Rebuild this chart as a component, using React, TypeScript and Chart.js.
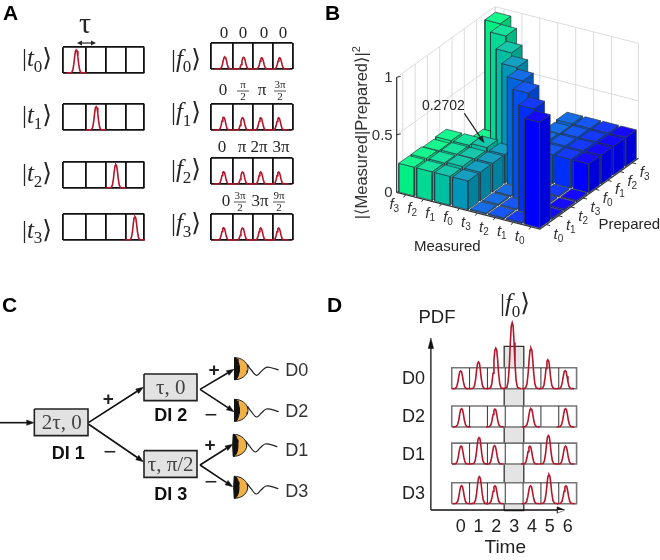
import React, { useEffect, useRef } from "react";
import { Chart, registerables } from "chart.js";

Chart.register(...registerables);

/* ---------- data ---------- */
const timeStates = ["t0", "t1", "t2", "t3"];
const freqStates = ["f0", "f1", "f2", "f3"];
const tPeakPositions = [0.653, 1.633, 2.6, 3.54];
const tAmplitudes = [
  [0.9, 0, 0, 0],
  [0, 0.9, 0, 0],
  [0, 0, 0.9, 0],
  [0, 0, 0, 0.9],
];
const fPeakPositions = [
  [0.68, 1.6, 2.49, 3.37],
  [0.62, 1.55, 2.44, 3.32],
  [0.62, 1.55, 2.44, 3.32],
  [0.62, 1.55, 2.44, 3.32],
];
const fAmplitudes = [
  [0.46, 0.45, 0.43, 0.43],
  [0.49, 0.47, 0.47, 0.47],
  [0.47, 0.46, 0.46, 0.46],
  [0.47, 0.46, 0.46, 0.46],
];
const phaseLabels = [
  ["0", "0", "0", "0"],
  ["0", "π/2", "π", "3π/2"],
  ["0", "π", "2π", "3π"],
  ["0", "3π/2", "3π", "9π/2"],
];
const pulseOffsets = [-0.5, -0.23, -0.17, -0.12, -0.08, -0.04, 0, 0.04, 0.08, 0.12, 0.17, 0.23, 0.5];
const pulseShape = [0, 0.02, 0.12, 0.38, 0.7, 0.95, 1, 0.95, 0.7, 0.38, 0.12, 0.02, 0];

const measuredLabels = ["f3", "f2", "f1", "f0", "t3", "t2", "t1", "t0"];
const preparedLabels = ["t0", "t1", "t2", "t3", "f0", "f1", "f2", "f3"];
const rowF3 = [0.25, 0.25, 0.24, 0.25, 0.01, 0.01, 0.02, 0.96];
const rowF2 = [0.25, 0.25, 0.25, 0.25, 0.01, 0.01, 0.97, 0.01];
const rowF1 = [0.25, 0.26, 0.25, 0.2702, 0.01, 0.94, 0.01, 0.01];
const rowF0 = [0.25, 0.25, 0.25, 0.25, 0.93, 0.01, 0.01, 0.01];
const rowT3 = [0.01, 0.01, 0.01, 0.93, 0.25, 0.25, 0.24, 0.25];
const rowT2 = [0.01, 0.01, 0.94, 0.01, 0.25, 0.25, 0.25, 0.25];
const rowT1 = [0.01, 0.92, 0.01, 0.01, 0.25, 0.25, 0.25, 0.25];
const rowT0 = [0.92, 0.01, 0.01, 0.01, 0.25, 0.25, 0.25, 0.25];
const probabilities = [rowF3, rowF2, rowF1, rowF0, rowT3, rowT2, rowT1, rowT0];
const zTicks = [0, 0.5, 1];

const detectorNames = ["D0", "D2", "D1", "D3"];
const timeTicks = [0, 1, 2, 3, 4, 5, 6];
const rowBaselines = [5.48, 3.66, 1.89, 0];
const peakTimes = [
  [0, 1, 1.97, 2.89, 3.94, 4.89, 5.86],
  [0.05, 1, 1.92, 3, 3.94, 5, 5.88],
  [0.02, 1.03, 1.9, 3, 3.88, 4.92, 5.88],
  [0.05, 1.05, 1.92, 3, 3.92, 4.95, 5.9],
];
const peakHeights = [
  [0.85, 1.28, 1.94, 3.15, 1.94, 1.38, 0.86],
  [0.87, 0, 0.85, 0, 0.87, 0, 0.87],
  [0.86, 1.26, 0.88, 0, 0.85, 1.36, 0.85],
  [0.86, 1.29, 0.85, 0, 0.85, 1.39, 0.85],
];

/* ---------- styles ---------- */
const RED = "#B2182B";
const INK = "#262626";
const SERIF = '"Liberation Serif", "DejaVu Serif", serif';
const SANS = '"Liberation Sans", Arial, sans-serif';
const faceBase = [
  [0, 238, 132],
  [0, 216, 148],
  [0, 190, 160],
  [0, 150, 184],
  [0, 100, 220],
  [0, 78, 236],
  [0, 48, 248],
  [0, 0, 255],
];

/* ---------- text helpers ---------- */
type Seg = { t: string; f: string; dy?: number };
function drawSegs(ctx: any, x: number, y: number, segs: Seg[], color = INK, align = "center", rot = 0) {
  ctx.save();
  ctx.translate(x, y);
  ctx.rotate(rot);
  ctx.fillStyle = color;
  ctx.textBaseline = "alphabetic";
  ctx.textAlign = "left";
  let w = 0;
  for (const s of segs) {
    ctx.font = s.f;
    w += ctx.measureText(s.t).width;
  }
  let cx = align === "center" ? -w / 2 : align === "right" ? -w : 0;
  for (const s of segs) {
    ctx.font = s.f;
    ctx.fillText(s.t, cx, s.dy || 0);
    cx += ctx.measureText(s.t).width;
  }
  ctx.restore();
}
const plain = (t: string, font: string): Seg[] => [{ t, f: font }];
const ket = (label: string, size = 25): Seg[] => [
  { t: "|", f: `${size}px ${SERIF}` },
  { t: label[0], f: `italic ${size}px ${SERIF}` },
  { t: label[1], f: `${Math.round(size * 0.68)}px ${SERIF}`, dy: size * 0.22 },
  { t: "⟩", f: `${size}px "DejaVu Sans"` },
];
function drawPhase(ctx: any, x: number, y: number, label: string) {
  if (label.includes("/")) {
    const [n, d] = label.split("/");
    const font = `11px ${SERIF}`;
    drawSegs(ctx, x, y - 7, plain(n, font));
    drawSegs(ctx, x, y + 5, plain(d, font));
    ctx.strokeStyle = INK;
    ctx.lineWidth = 0.8;
    ctx.beginPath();
    ctx.moveTo(x - 6, y - 4);
    ctx.lineTo(x + 6, y - 4);
    ctx.stroke();
  } else {
    drawSegs(ctx, x, y, plain(label, `17px ${SERIF}`));
  }
}

/* ---------- dataset helpers ---------- */
type P = { x: number; y: number };
const poly = (pts: P[], fill: string | null, stroke: string | null, width = 1, extra: any = {}) => ({
  data: pts,
  showLine: true,
  fill: fill ? "shape" : false,
  backgroundColor: fill || "transparent",
  borderColor: stroke || "transparent",
  borderWidth: stroke ? width : 0,
  pointRadius: 0,
  tension: 0,
  clip: false,
  ...extra,
});
function arrow(a: P, b: P, color: string, width: number, len: number, half: number) {
  const L = Math.hypot(b.x - a.x, b.y - a.y);
  const ux = (b.x - a.x) / L;
  const uy = (b.y - a.y) / L;
  const base = { x: b.x - ux * len, y: b.y - uy * len };
  return [
    poly([a, base], null, color, width),
    poly(
      [b, { x: base.x - uy * half, y: base.y + ux * half }, { x: base.x + uy * half, y: base.y - ux * half }, b],
      color,
      color,
      0.5
    ),
  ];
}
const pulses = (peaks: number[], heights: number[], base: number, width: number, spread = 1) =>
  peaks
    .map((p, i) =>
      heights[i] > 0
        ? poly(
            pulseOffsets.map((o, k) => ({
              x: p + (Math.abs(o) === 0.5 ? o : o * spread),
              y: base + heights[i] * pulseShape[k],
            })),
            null,
            RED,
            width
          )
        : null
    )
    .filter(Boolean);

const baseOptions = (scales: any, padding: any = 0) => ({
  responsive: false,
  animation: false as const,
  events: [] as any[],
  layout: { padding },
  plugins: { legend: { display: false }, tooltip: { enabled: false }, title: { display: false } },
  scales,
});
const hiddenScales = (x0: number, w: number, h: number) => ({
  x: { type: "linear", min: x0, max: w, display: false },
  y: { type: "linear", min: 0, max: h, reverse: true, display: false },
});
const overlay = (draw: (chart: any, ctx: any) => void) => ({
  id: "overlayText",
  afterDatasetsDraw(chart: any) {
    draw(chart, chart.ctx);
  },
});

/* ---------- panel A ---------- */
function slotChart(
  boxTop: number,
  boxLeft: number,
  boxRight: number,
  edges: number[],
  peaks: number[],
  amps: number[],
  canvasTop: number,
  canvasLeft: number,
  canvasWidth: number,
  boxH: number,
  draw: (ctx: any, toX: (v: number) => number) => void
) {
  const canvasHeight = boxTop - canvasTop + boxH + 3;
  return {
    rect: { left: canvasLeft, top: canvasTop, width: canvasWidth, height: canvasHeight },
    config: {
      type: "scatter",
      data: { datasets: (pulses(peaks, amps, 0, 1.6) as any[]).reverse() },
      options: baseOptions(
        {
          x: {
            type: "linear",
            min: 0,
            max: 4,
            afterBuildTicks: (s: any) => {
              s.ticks = edges.map((value) => ({ value }));
            },
            afterFit: (s: any) => {
              s.height = 0;
            },
            ticks: { display: false },
            grid: { color: "#111", lineWidth: 1.8, drawTicks: false },
            border: { display: false },
          },
          y: {
            type: "linear",
            min: 0,
            max: 1,
            afterBuildTicks: (s: any) => {
              s.ticks = [{ value: 0 }, { value: 1 }];
            },
            afterFit: (s: any) => {
              s.width = 0;
            },
            ticks: { display: false },
            grid: { color: "#111", lineWidth: 1.8, drawTicks: false },
            border: { display: false },
          },
        },
        {
          left: boxLeft - canvasLeft,
          right: canvasLeft + canvasWidth - boxRight,
          top: boxTop - canvasTop,
          bottom: 3,
        }
      ),
    },
    plugin: overlay((chart, ctx) => draw(ctx, (v) => chart.scales.x.getPixelForValue(v))),
  };
}

const tBoxTops = [47.3, 104, 161.7, 214.3];
const fBoxTops = [43.3, 104, 157.7, 214];
const tKetBaselines = [66, 123, 181, 238];
const fKetBaselines = [67, 120, 177, 231];
const fPhaseBaselines = [38, 95, 152, 206];
const fPhaseX = [
  [224, 243, 264, 283],
  [223, 243, 262, 280],
  [222, 242, 259, 281],
  [226, 240, 260, 279],
];
const tEdges = [0, 1.143, 2.12, 3.1, 4];
const fEdges = [0, 1.08, 2.06, 3.04, 4];

const panelA: any[] = [];
timeStates.forEach((s, r) => {
  const top = r === 0 ? 0 : tBoxTops[r] - 24;
  panelA.push(
    slotChart(tBoxTops[r], 63, 144.3, tEdges, tPeakPositions, tAmplitudes[r], top, 0, 150, 26, (ctx) => {
      drawSegs(ctx, 37, tKetBaselines[r] - top, ket(s));
      if (r === 0) {
        drawSegs(ctx, 3, 20, plain("A", `bold 21px ${SANS}`), "#000", "left");
        drawSegs(ctx, 85, 33, plain("τ", `30px ${SERIF}`));
        ctx.strokeStyle = INK;
        ctx.fillStyle = INK;
        ctx.lineWidth = 1.2;
        ctx.beginPath();
        ctx.moveTo(79, 43);
        ctx.lineTo(94, 43);
        ctx.stroke();
        for (const [tip, dir] of [
          [77, 1],
          [96, -1],
        ]) {
          ctx.beginPath();
          ctx.moveTo(tip, 43);
          ctx.lineTo(tip + dir * 5, 40.5);
          ctx.lineTo(tip + dir * 5, 45.5);
          ctx.closePath();
          ctx.fill();
        }
      }
    })
  );
});
freqStates.forEach((s, r) => {
  const top = fBoxTops[r] - 36;
  panelA.push(
    slotChart(fBoxTops[r], 211, 292.5, fEdges, fPeakPositions[r], fAmplitudes[r], top, 150, 150, 26, (ctx) => {
      drawSegs(ctx, 186 - 150, fKetBaselines[r] - top, ket(s));
      phaseLabels[r].forEach((l, k) => drawPhase(ctx, fPhaseX[r][k] - 150, fPhaseBaselines[r] - top, l));
    })
  );
});

/* ---------- panel B ---------- */
const floorO = { x: 200, y: 577 };
const stepU = { x: 53.75, y: 13.75 };
const stepV = { x: 36.9, y: -26.5 };
const Z_UNIT = 345;
const project = (p: number, q: number, z: number): P => ({
  x: floorO.x + p * stepU.x + q * stepV.x,
  y: floorO.y + p * stepU.y + q * stepV.y - z * Z_UNIT,
});
const GRID = "#DCDCDC";
const shade = (c: number[], f: number, add = 0) =>
  `rgb(${Math.min(255, c[0] * f + add)},${Math.min(255, c[1] * f + add * 0.4)},${Math.min(255, c[2] * f + add * 0.4)})`;

function panelBDatasets() {
  const ds: any[] = [];
  const n = measuredLabels.length;
  for (let j = 0; j <= n; j++) {
    const q = j === 0 || j === n ? j : j - 0.5;
    ds.push(poly([project(0, q, 0), project(0, q, 1)], null, GRID, 1));
    ds.push(poly([project(q, n, 0), project(q, n, 1)], null, GRID, 1));
  }
  for (const z of [0.5, 1]) {
    ds.push(poly([project(0, 0, z), project(0, n, z), project(n, n, z)], null, GRID, 1));
  }
  ds.push(poly([project(0, 0, 0), project(0, 0, 1)], null, "#333", 1.2));
  zTicks.forEach((z) => ds.push(poly([project(0, 0, z), { x: project(0, 0, z).x + 12, y: project(0, 0, z).y - 3 }], null, "#333", 1)));
  ds.push(poly([project(0, 0, 0), project(n, 0, 0), project(n, n, 0)], null, "#333", 1.2));
  for (let i = 0; i < n; i++) {
    const a = project(i + 0.5, 0, 0);
    ds.push(poly([a, { x: a.x - 6, y: a.y + 8 }], null, "#333", 1));
    const b = project(n, i + 0.5, 0);
    ds.push(poly([b, { x: b.x + 12, y: b.y + 3 }], null, "#333", 1));
  }
  const h = 0.43;
  const edge = "#2b3a44";
  for (let j = n - 1; j >= 0; j--) {
    for (let i = 0; i < n; i++) {
      const v = probabilities[i][j];
      const c = faceBase[i];
      const x0 = i + 0.5 - h;
      const x1 = i + 0.5 + h;
      const y0 = j + 0.5 - h;
      const y1 = j + 0.5 + h;
      ds.push(
        poly(
          [project(x0, y0, 0), project(x1, y0, 0), project(x1, y0, v), project(x0, y0, v), project(x0, y0, 0)],
          shade(c, 1),
          edge,
          0.7
        )
      );
      ds.push(
        poly(
          [project(x1, y0, 0), project(x1, y1, 0), project(x1, y1, v), project(x1, y0, v), project(x1, y0, 0)],
          shade(c, 0.86),
          edge,
          0.7
        )
      );
      ds.push(
        poly(
          [project(x0, y0, v), project(x1, y0, v), project(x1, y1, v), project(x0, y1, v), project(x0, y0, v)],
          shade(c, 1, 22),
          edge,
          0.7
        )
      );
    }
  }
  ds.push(...arrow({ x: 403, y: 340 }, { x: 462, y: 428 }, "#222", 1.2, 20, 7));
  return ds.reverse();
}
const panelB = {
  rect: { left: 320, top: 0, width: 340, height: 280 },
  config: {
    type: "scatter",
    data: { datasets: panelBDatasets() },
    options: baseOptions(hiddenScales(-30, 990, 840)),
  },
  plugin: overlay((chart, ctx) => {
    const X = (v: number) => chart.scales.x.getPixelForValue(v);
    const Y = (v: number) => chart.scales.y.getPixelForValue(v);
    drawSegs(ctx, 5, 20, plain("B", `bold 21px ${SANS}`), "#000", "left");
    const axisLabel = (l: string): Seg[] => [
      { t: l[0], f: `italic 15px ${SANS}` },
      { t: l[1], f: `10px ${SANS}`, dy: 3 },
    ];
    const n = measuredLabels.length;
    measuredLabels.forEach((l, i) => {
      const a = project(i + 0.5, 0, 0);
      drawSegs(ctx, X(a.x - 34), Y(a.y + 42), axisLabel(l), "#333");
    });
    preparedLabels.forEach((l, j) => {
      const b = project(n, j + 0.5, 0);
      drawSegs(ctx, X(b.x + 37), Y(b.y + 42), axisLabel(l), "#333");
    });
    zTicks.forEach((z) => {
      const a = project(0, 0, z);
      drawSegs(ctx, X(a.x - 12), Y(a.y + 15), plain(String(z), `15px ${SANS}`), "#333", "right");
    });
    drawSegs(ctx, X(352), Y(752), plain("Measured", `15px ${SANS}`), INK);
    drawSegs(ctx, X(898), Y(686), plain("Prepared", `15px ${SANS}`), INK);
    drawSegs(ctx, X(340), Y(331), plain("0.2702", `14px ${SANS}`), INK);
    drawSegs(
      ctx,
      X(110),
      Y(398),
      [
        { t: "|⟨Measured|Prepared⟩|", f: `16.5px ${SANS}, "DejaVu Sans"` },
        { t: "2", f: `11px ${SANS}`, dy: -7 },
      ],
      "#333",
      "center",
      -Math.PI / 2
    );
  }),
};

/* ---------- panel C ---------- */
const boxesC = [
  { x0: 103, y0: 387, x1: 264, y1: 467 },
  { x0: 432, y0: 282, x1: 591, y1: 362 },
  { x0: 432, y0: 512, x1: 591, y1: 592 },
];
const detectorsC = [
  { x: 704, y: 266, by: 268 },
  { x: 704, y: 391, by: 392 },
  { x: 700, y: 496, by: 508 },
  { x: 703, y: 622, by: 632 },
];
const squiggleDx = [38, 50, 66, 80, 95, 112, 132];
const squiggleDy = [-12, 4, 20, 8, -4, -2, 4];

function panelCDatasets() {
  const ds: any[] = [];
  const ar = (a: number[], b: number[], w = 1.6) =>
    ds.push(...arrow({ x: a[0], y: a[1] }, { x: b[0], y: b[1] }, "#111", w, 22, 8));
  ar([0, 428], [102, 428]);
  ar([265, 428], [430, 322]);
  ar([265, 432], [430, 545]);
  ar([600, 328], [702, 268]);
  ar([600, 328], [702, 395]);
  ar([600, 555], [698, 493]);
  ar([600, 555], [698, 620]);
  for (const b of boxesC) {
    ds.push(
      poly(
        [
          { x: b.x0, y: b.y0 },
          { x: b.x1, y: b.y0 },
          { x: b.x1, y: b.y1 },
          { x: b.x0, y: b.y1 },
          { x: b.x0, y: b.y0 },
        ],
        "#E2E2E2",
        "#222",
        1.6
      )
    );
  }
  for (const d of detectorsC) {
    const arc: P[] = [];
    const inner: P[] = [];
    for (let a = -90; a <= 90; a += 10) {
      const t = (a * Math.PI) / 180;
      arc.push({ x: d.x + 40 * Math.cos(t), y: d.y + 33 * Math.sin(t) });
    }
    ds.push(poly([...arc, arc[0]], "#F0B048", "#222", 1));
    for (let a = -90; a <= 90; a += 15) {
      const t = (a * Math.PI) / 180;
      inner.push({ x: d.x + 14 * Math.cos(t), y: d.y + 33 * Math.sin(t) });
    }
    inner.push({ x: d.x, y: d.y + 33 }, { x: d.x - 2, y: d.y }, { x: d.x, y: d.y - 33 }, inner[0]);
    ds.push(poly(inner, "#111", "#111", 1));
    ds.push(
      poly(
        squiggleDx.map((dx, k) => ({ x: d.x + dx, y: d.y + squiggleDy[k] })),
        null,
        "#222",
        1.2,
        { tension: 0.45 }
      )
    );
  }
  return ds.reverse();
}
const panelC = {
  rect: { left: 0, top: 280, width: 320, height: 280 },
  config: {
    type: "scatter",
    data: { datasets: panelCDatasets() },
    options: baseOptions(hiddenScales(0, 960, 840)),
  },
  plugin: overlay((chart, ctx) => {
    const T = (s: string, x: number, y: number, font: string, color = INK) =>
      drawSegs(ctx, chart.scales.x.getPixelForValue(x), chart.scales.y.getPixelForValue(y), plain(s, font), color);
    drawSegs(ctx, 2, 32, plain("C", `bold 21px ${SANS}`), "#000", "left");
    T("2τ, 0", 185, 446, `21px ${SERIF}`, "#444");
    T("τ, 0", 512, 342, `21px ${SERIF}`, "#444");
    T("τ, π/2", 512, 572, `21px ${SERIF}`, "#444");
    const bold = `bold 18px ${SANS}`;
    T("DI 1", 205, 536, bold, "#111");
    T("DI 2", 512, 424, bold, "#111");
    T("DI 3", 512, 661, bold, "#111");
    const plus = `bold 19px ${SANS}`;
    const minus = `22px ${SANS}`;
    T("+", 325, 376, plus, "#222");
    T("−", 330, 537, minus, "#222");
    T("+", 642, 288, plus, "#222");
    T("−", 633, 425, minus, "#222");
    T("+", 630, 512, plus, "#222");
    T("−", 633, 627, minus, "#222");
    detectorNames.forEach((name, i) => T(name, 890, detectorsC[i].by + 20, `18px ${SANS}`, "#333"));
  }),
};

/* ---------- panel D ---------- */
const rowDatasets = () => {
  const ds: any[] = [];
  ds.push(
    poly(
      [
        { x: 2.44, y: -0.33 },
        { x: 3.54, y: -0.33 },
        { x: 3.54, y: 7.5 },
        { x: 2.44, y: 7.5 },
        { x: 2.44, y: -0.33 },
      ],
      "#E4E4E4",
      "#333",
      1.3
    )
  );
  rowBaselines.forEach((b) => {
    ds.push(
      poly(
        [
          { x: -0.5, y: b },
          { x: 6.5, y: b },
          { x: 6.5, y: b + 1 },
          { x: -0.5, y: b + 1 },
          { x: -0.5, y: b },
        ],
        "#FFFFFF",
        "#777",
        1.6
      )
    );
    timeTicks.slice(1).forEach((t) => ds.push(poly([{ x: t - 0.5, y: b }, { x: t - 0.5, y: b + 1 }], null, "#333", 1)));
  });
  ds.push(...arrow({ x: -1.67, y: -0.3 }, { x: 5.84, y: -0.3 }, "#111", 1.3, 0.42, 0.15));
  const up = { x: -1.67, y: 7.9 };
  ds.push(poly([{ x: -1.67, y: -0.3 }, { x: -1.67, y: 7.5 }], null, "#111", 1.3));
  ds.push(poly([up, { x: -1.82, y: 7.4 }, { x: -1.52, y: 7.4 }, up], "#111", "#111", 0.5));
  rowBaselines.forEach((b, r) => ds.push(...(pulses(peakTimes[r], peakHeights[r], b, 1.6, 1.3) as any[])));
  return ds.reverse();
};
const panelD = {
  rect: { left: 320, top: 280, width: 340, height: 280 },
  config: {
    type: "scatter",
    data: { datasets: rowDatasets() },
    options: baseOptions(
      {
        x: {
          type: "linear",
          min: -2,
          max: 7,
          afterBuildTicks: (s: any) => {
            s.ticks = timeTicks.map((value) => ({ value }));
          },
          afterFit: (s: any) => {
            s.height = 50;
          },
          ticks: {
            autoSkip: false,
            maxRotation: 0,
            padding: 6,
            color: "#222",
            font: { family: SANS, size: 18 },
          },
          grid: { display: false, drawTicks: false },
          border: { display: false },
          title: {
            display: true,
            text: "Time",
            color: "#222",
            font: { family: SANS, size: 19 },
            padding: { top: 0, bottom: 1 },
          },
        },
        y: {
          type: "linear",
          min: -0.3,
          max: 10.15,
          afterBuildTicks: (s: any) => {
            s.ticks = rowBaselines.map((b) => ({ value: b + 0.45 }));
          },
          afterFit: (s: any) => {
            s.width = 105;
          },
          ticks: {
            autoSkip: false,
            padding: 0,
            color: "#222",
            font: { family: SANS, size: 18 },
            callback: (_: any, i: number) => detectorNames[i],
          },
          grid: { display: false, drawTicks: false },
          border: { display: false },
        },
      },
      { left: 0, right: 74.5, top: 0, bottom: 0 }
    ),
  },
  plugin: overlay((_chart, ctx) => {
    drawSegs(ctx, 7, 32, plain("D", `bold 21px ${SANS}`), "#000", "left");
    drawSegs(ctx, 117, 43, plain("PDF", `18.5px ${SANS}`), "#222");
    drawSegs(ctx, 195, 31, ket("f0", 25));
  }),
};

/* ---------- react ---------- */
function Panel({ spec }: { spec: any }) {
  const ref = useRef<HTMLCanvasElement>(null);
  useEffect(() => {
    const chart = new Chart(ref.current as any, { ...spec.config, plugins: [spec.plugin] } as any);
    return () => chart.destroy();
  }, [spec]);
  const r = spec.rect;
  return (
    <canvas
      ref={ref}
      width={r.width}
      height={r.height}
      style={{ position: "absolute", left: r.left, top: r.top, width: r.width, height: r.height }}
    />
  );
}

const PANELS = [panelB, panelC, panelD, ...panelA];

export default function App() {
  return (
    <div style={{ position: "fixed", left: 0, top: 0, width: 660, height: 560, background: "#fff", overflow: "hidden" }}>
      {PANELS.map((spec, i) => (
        <Panel key={i} spec={spec} />
      ))}
    </div>
  );
}
